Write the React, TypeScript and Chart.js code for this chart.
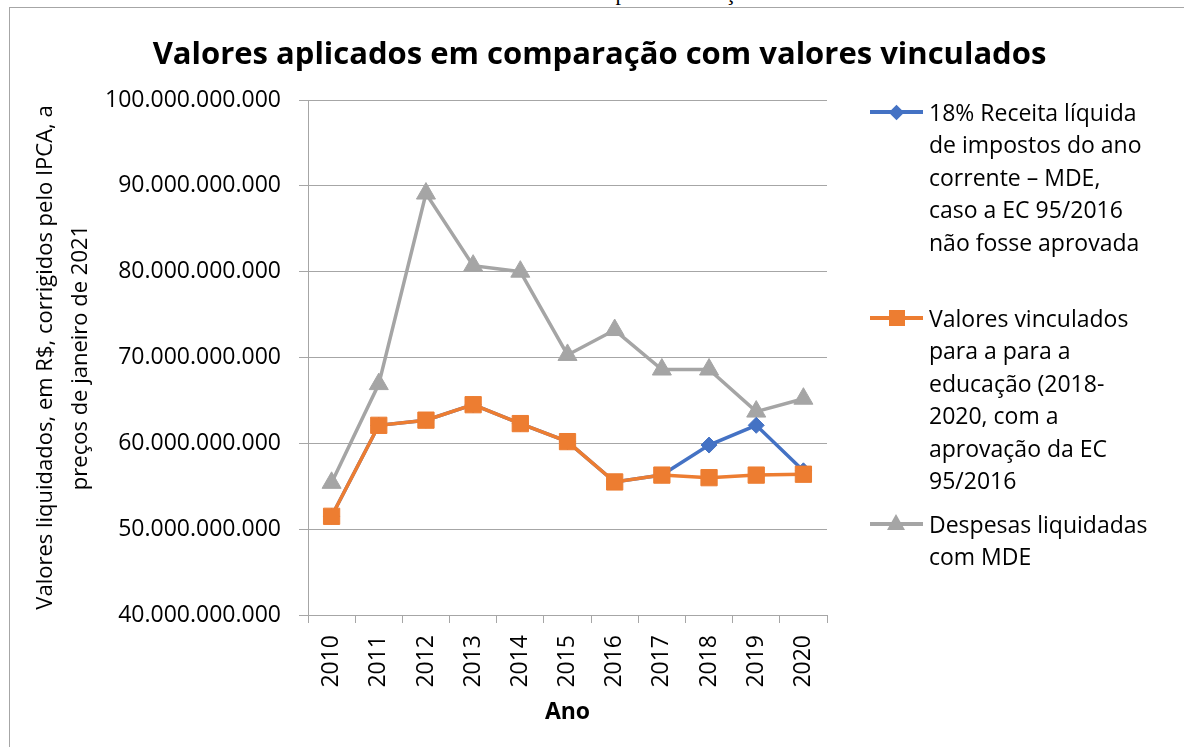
import React, { useEffect, useRef } from "react";
import { Chart, registerables } from "chart.js";

Chart.register(...registerables);

const years = ["2010", "2011", "2012", "2013", "2014", "2015", "2016", "2017", "2018", "2019", "2020"];
const receitaSemEC = [51.5e9, 62.1e9, 62.7e9, 64.5e9, 62.3e9, 60.2e9, 55.5e9, 56.3e9, 59.8e9, 62.1e9, 56.8e9];
const vinculados = [51.5e9, 62.1e9, 62.7e9, 64.5e9, 62.3e9, 60.2e9, 55.5e9, 56.3e9, 56.0e9, 56.3e9, 56.4e9];
const despesas = [55.4e9, 66.9e9, 89.1e9, 80.7e9, 80.0e9, 70.3e9, 73.2e9, 68.6e9, 68.6e9, 63.7e9, 65.2e9];
const yMin = 40e9;
const yMax = 100e9;
const yStep = 10e9;

const seriesNames = [
  ["18% Receita líquida", "de impostos do ano", "corrente – MDE,", "caso a EC 95/2016", "não fosse aprovada"],
  ["Valores vinculados", "para a para a", "educação (2018-", "2020, com a", "aprovação da EC", "95/2016"],
  ["Despesas liquidadas", "com MDE"],
];
const title = "Valores aplicados em comparação com valores vinculados";
const yTitle = ["Valores liquidados, em R$, corrigidos pelo IPCA, a", "preços de janeiro de 2021"];
const xTitle = "Ano";
const caption = "Valores vinculados para a educação";

const BLUE = "#4472C4";
const ORANGE = "#ED7D31";
const GRAY = "#A5A5A5";
const GRID = "#A6A6A6";
const FONT = "'Open Sans', sans-serif";

const fmt = (v: number) => Math.round(v).toString().replace(/\B(?=(\d{3})+(?!\d))/g, ".");

function LegendMarker({ color, shape }: { color: string; shape: string }) {
  let marker: React.ReactNode = null;
  if (shape === "diamond") {
    marker = (
      <div style={{ position: "absolute", left: 21, top: -5.5, width: 11, height: 11, background: color, transform: "rotate(45deg)" }} />
    );
  } else if (shape === "square") {
    marker = <div style={{ position: "absolute", left: 18.5, top: -8.5, width: 16, height: 16, background: color }} />;
  } else {
    marker = (
      <div
        style={{
          position: "absolute",
          left: 17,
          top: -10,
          width: 0,
          height: 0,
          borderLeft: "9.5px solid transparent",
          borderRight: "9.5px solid transparent",
          borderBottom: `16px solid ${color}`,
        }}
      />
    );
  }
  return (
    <div style={{ position: "absolute", left: 0, top: 0, width: 53, height: 0 }}>
      <div style={{ position: "absolute", left: 0, top: -1.75, width: 53, height: 3.5, background: color }} />
      {marker}
    </div>
  );
}

export default function App() {
  const ref = useRef<HTMLCanvasElement>(null);

  useEffect(() => {
    if (!ref.current) return;
    const chart = new Chart(ref.current, {
      type: "line",
      data: {
        labels: years,
        datasets: [
          {
            label: seriesNames[0].join(" "),
            data: receitaSemEC,
            borderColor: BLUE,
            backgroundColor: BLUE,
            borderWidth: 3.5,
            pointStyle: "rectRot",
            pointRadius: 8,
            pointBorderWidth: 1,
            order: 2,
          },
          {
            label: seriesNames[1].join(" "),
            data: vinculados,
            borderColor: ORANGE,
            backgroundColor: ORANGE,
            borderWidth: 3.5,
            pointStyle: "rect",
            pointRadius: 11.5,
            pointBorderWidth: 1,
            order: 1,
          },
          {
            label: seriesNames[2].join(" "),
            data: despesas,
            borderColor: GRAY,
            backgroundColor: GRAY,
            borderWidth: 3.5,
            pointStyle: "triangle",
            pointRadius: 11,
            pointBorderWidth: 1,
            order: 3,
          },
        ],
      },
      options: {
        animation: false,
        responsive: false,
        maintainAspectRatio: false,
        layout: { padding: { top: 100, right: 1184 - 827, bottom: 0, left: 0 } },
        plugins: {
          legend: { display: false },
          title: { display: false },
          tooltip: { enabled: false },
        },
        scales: {
          x: {
            type: "category",
            offset: true,
            grid: {
              display: true,
              drawOnChartArea: false,
              drawTicks: true,
              tickLength: 8,
              offset: true,
              color: GRID,
            },
            border: { display: true, color: GRID, width: 1 },
            ticks: {
              autoSkip: false,
              minRotation: 90,
              maxRotation: 90,
              padding: 12,
              color: "#000",
              font: { family: FONT, size: 23 },
            },
            title: {
              display: true,
              text: xTitle,
              color: "#000",
              font: { family: FONT, size: 23, weight: "bold", lineHeight: 1.2 },
              padding: { top: 0, bottom: 21 },
            },
            afterFit: (scale: any) => {
              scale.height = 747 - 615;
            },
          },
          y: {
            min: yMin,
            max: yMax,
            grid: { color: GRID, tickLength: 9, lineWidth: 1 },
            border: { display: true, color: GRID, width: 1 },
            ticks: {
              stepSize: yStep,
              padding: 18,
              color: "#000",
              font: { family: FONT, size: 23 },
              callback: (v: any) => fmt(Number(v)),
            },
            title: {
              display: true,
              text: yTitle,
              color: "#000",
              font: { family: FONT, size: 22, lineHeight: "35px" as any },
              padding: { top: 28.5, bottom: 0 },
            },
            afterFit: (scale: any) => {
              scale.width = 308;
            },
          },
        },
      },
    } as any);
    return () => chart.destroy();
  }, []);

  const legendTops = [112, 318, 524];
  const colors = [BLUE, ORANGE, GRAY];
  const shapes = ["diamond", "square", "triangle"];

  return (
    <div style={{ position: "absolute", left: 0, top: 0, width: 1184, height: 747, overflow: "hidden", background: "#fff" }}>
      <div style={{ position: "absolute", left: 0, top: 0, width: 1199, height: 7, overflow: "hidden" }}>
        <div
          style={{
            position: "absolute",
            left: 0,
            top: -18,
            width: 1199,
            textAlign: "center",
            fontFamily: "'Liberation Serif', serif",
            fontSize: 22,
            lineHeight: "22px",
            color: "#000",
            whiteSpace: "nowrap",
          }}
        >
          {caption}
        </div>
      </div>
      <div
        style={{
          position: "absolute",
          left: 9,
          top: 7,
          width: 1300,
          height: 1000,
          border: "1px solid #A6A6A6",
          boxSizing: "border-box",
        }}
      />
      <canvas ref={ref} width={1184} height={747} style={{ position: "absolute", left: 0, top: 0, width: 1184, height: 747 }} />
      <div
        style={{
          position: "absolute",
          left: 0,
          top: 52 - 20,
          width: 1199,
          height: 40,
          lineHeight: "40px",
          textAlign: "center",
          fontFamily: FONT,
          fontWeight: 700,
          fontSize: 31,
          color: "#000",
          whiteSpace: "nowrap",
        }}
      >
        {title}
      </div>
      {seriesNames.map((lines, i) => (
        <div key={i} style={{ position: "absolute", left: 870, top: legendTops[i] }}>
          <LegendMarker color={colors[i]} shape={shapes[i]} />
          <div
            style={{
              position: "absolute",
              left: 59,
              top: -16.25,
              fontFamily: FONT,
              fontSize: 23,
              lineHeight: "32.5px",
              color: "#000",
              whiteSpace: "nowrap",
            }}
          >
            {lines.map((l, j) => (
              <div key={j}>{l}</div>
            ))}
          </div>
        </div>
      ))}
    </div>
  );
}
